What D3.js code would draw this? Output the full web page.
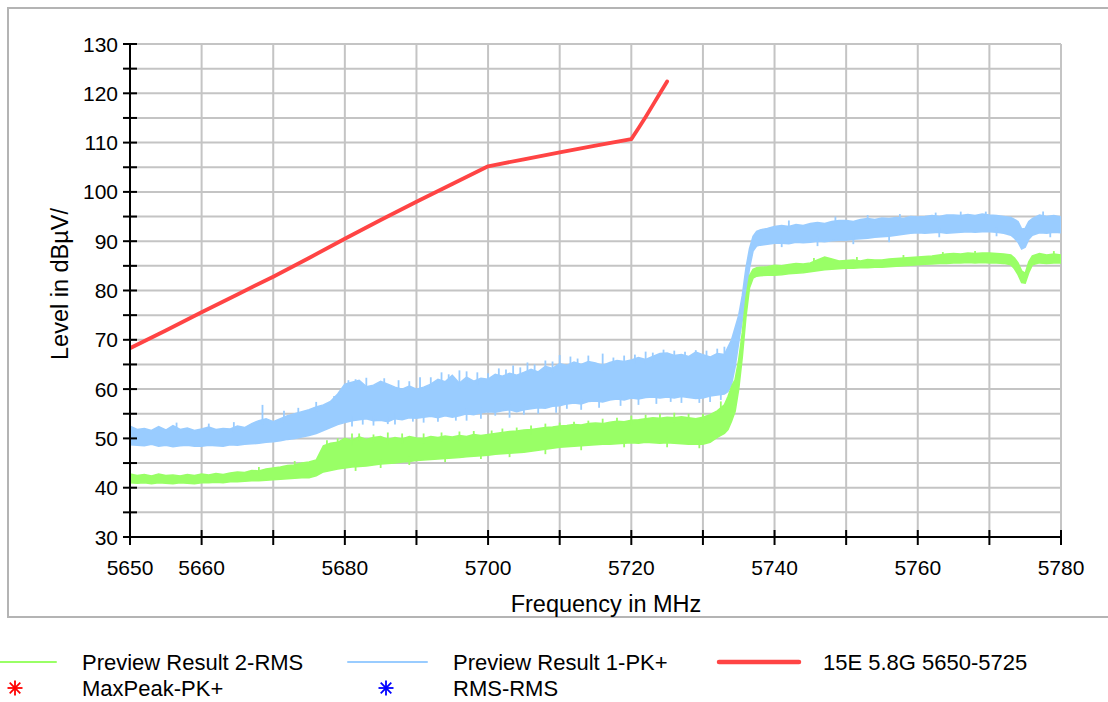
<!DOCTYPE html>
<html><head><meta charset="utf-8">
<script src="https://cdn.jsdelivr.net/npm/d3@7"></script>
<style>html,body{margin:0;padding:0;background:#fff;}svg{display:block;font-family:"Liberation Sans",Arial,sans-serif;}</style>
</head><body><svg id="c" width="1108" height="702"></svg>
<script>
// ---------- DATA ----------
const xTickValues = [5650,5660,5670,5680,5690,5700,5710,5720,5730,5740,5750,5760,5770,5780];
const xTickLabels = ["5650","5660","","5680","","5700","","5720","","5740","","5760","","5780"];
const yTickValues = [30,40,50,60,70,80,90,100,110,120,130];

const freqs = [5650,5651,5652,5653,5654,5655,5656,5657,5658,5659,5660,5661,5662,5663,5664,5665,5666,5667,5668,5669,
5670,5671,5672,5673,5674,5675,5676,5677,5678,5679,5680,5681,5682,5683,5684,5685,5686,5687,5688,5689,
5690,5691,5692,5693,5694,5695,5696,5697,5698,5699,5700,5701,5702,5703,5704,5705,5706,5707,5708,5709,
5710,5711,5712,5713,5714,5715,5716,5717,5718,5719,5720,5721,5722,5723,5724,5725,5726,5727,5728,5729,
5730,5731,5732,5733,5733.5,5734,5734.5,5735,5735.5,5736,5736.5,5737,5737.5,5738,5739,
5740,5741,5742,5743,5744,5745,5746,5747,5748,5749,5750,5751,5752,5753,5754,5755,5756,5757,5758,5759,
5760,5761,5762,5763,5764,5765,5766,5767,5768,5769,5770,5771,5772,5773,5773.5,5774,5774.5,5775,5775.5,5776,
5777,5778,5779,5780];

// Preview Result 1-PK+ (blue) envelope
const pkHigh = [52.5,51.8,52.0,51.6,52.4,51.7,52.6,51.8,52.1,51.6,51.9,52.3,51.8,52.0,51.9,52.5,52.2,53.0,53.6,54.0,
53.4,54.0,54.6,55.0,55.4,55.8,56.4,56.8,57.5,59.0,61.0,61.4,61.8,60.5,60.8,61.6,61.0,60.4,60.0,60.6,
60.0,60.4,61.0,62.0,61.5,62.8,61.2,62.4,61.6,62.2,62.0,63.0,62.6,63.2,62.8,63.4,64.0,63.5,64.6,64.2,
65.2,64.8,65.5,65.0,65.6,65.3,64.8,65.4,65.8,65.6,65.9,66.4,66.0,66.6,67.2,67.3,66.8,67.0,66.6,67.5,
67.0,66.5,67.2,67.0,68.5,70.0,72.5,75.0,79.0,84.5,88.5,91.0,92.0,92.3,92.6,
93.0,93.2,93.0,93.4,93.2,93.6,93.8,93.6,94.0,94.2,94.2,94.0,94.4,94.6,94.4,94.7,94.6,94.8,94.6,95.0,
94.9,95.0,95.2,95.0,95.3,95.3,95.2,95.4,95.2,95.5,95.3,95.2,95.0,94.8,94.4,94.0,92.5,92.6,94.0,94.6,
95.3,95.0,95.2,94.9];
const pkLow = [48.7,48.6,48.5,48.8,48.4,48.6,48.3,48.5,48.6,48.4,48.4,48.6,48.5,48.4,48.7,48.6,48.8,48.9,49.0,49.2,
49.3,49.5,49.8,50.0,50.3,50.6,51.0,51.6,52.2,52.8,53.2,53.6,53.8,54.0,53.6,53.7,53.4,54.0,53.8,54.2,
54.1,54.3,54.5,54.2,54.6,54.3,54.6,55.0,54.8,55.2,55.4,55.3,55.6,55.8,55.4,55.8,56.0,56.2,56.1,56.5,
56.6,57.0,57.2,57.0,57.5,57.6,57.4,57.8,58.0,57.8,58.2,58.0,58.3,58.4,58.2,58.4,58.2,58.5,58.3,58.1,
58.2,58.6,58.8,59.0,59.5,61.0,64.5,69.5,74.0,79.0,84.5,88.0,89.0,89.2,89.4,
89.6,89.6,89.5,89.8,89.7,89.8,90.0,89.9,90.1,90.2,90.2,90.4,90.5,90.6,90.8,90.9,91.0,91.2,91.4,91.6,
91.7,91.6,91.7,91.8,91.6,91.7,91.8,91.9,91.8,91.9,91.9,91.8,91.6,91.2,90.6,89.8,88.4,88.8,90.4,91.2,
91.7,91.6,91.8,91.7];

// Preview Result 2-RMS (green) envelope
const rmsHigh = [42.8,42.5,42.7,42.4,42.8,42.5,42.6,42.4,42.7,42.5,42.8,42.6,42.9,42.7,43.0,43.2,43.1,43.5,43.4,43.8,
44.0,44.2,44.5,44.6,45.0,45.2,45.6,48.5,49.0,49.2,50.0,49.6,50.3,49.8,50.2,50.4,49.8,50.2,49.9,50.4,
50.1,50.0,50.4,50.2,50.5,50.3,50.6,50.4,50.8,50.6,50.8,51.0,51.2,51.4,51.5,51.7,51.8,52.0,52.2,52.3,
52.5,52.6,52.8,52.7,53.0,53.1,53.0,53.3,53.5,53.4,53.7,53.8,54.0,54.2,54.1,54.3,54.2,54.4,54.2,54.0,
54.3,54.8,55.6,56.8,58.5,60.5,62.0,66.0,71.5,78.5,83.0,84.3,84.6,84.7,84.8,
85.1,85.0,85.3,85.5,85.4,85.6,86.2,86.8,86.4,86.0,86.1,86.2,86.0,86.3,86.2,86.2,86.4,86.5,86.6,86.7,
86.8,86.9,87.0,87.2,87.4,87.5,87.4,87.6,87.5,87.6,87.6,87.5,87.4,87.2,86.6,85.6,84.0,83.5,85.8,87.0,
87.5,87.2,87.4,87.2];
const rmsLow = [41.0,40.9,41.0,40.8,41.0,40.9,40.8,41.0,40.9,40.8,41.0,41.0,41.1,41.0,41.2,41.2,41.3,41.4,41.4,41.5,
41.6,41.7,41.8,41.9,42.0,42.0,42.4,43.2,43.5,43.8,44.0,44.2,44.3,44.4,44.6,44.8,44.9,45.0,45.2,45.3,
45.5,45.6,45.7,45.8,45.9,46.0,46.1,46.3,46.4,46.5,46.6,46.8,46.9,47.0,47.1,47.2,47.4,47.6,47.8,48.0,
48.2,48.3,48.4,48.5,48.6,48.7,48.8,48.8,48.9,49.0,49.1,49.0,49.2,49.1,49.0,49.1,49.0,48.9,48.8,48.8,
48.8,49.2,50.2,51.0,51.8,53.5,55.5,60.0,66.5,74.5,80.5,82.5,82.9,83.0,83.1,
83.1,83.2,83.4,83.5,83.6,83.8,84.0,84.2,84.3,84.4,84.5,84.5,84.6,84.6,84.7,84.7,84.8,84.9,85.0,85.1,
85.2,85.3,85.4,85.5,85.5,85.6,85.6,85.7,85.6,85.7,85.6,85.6,85.5,85.2,84.4,83.2,81.6,81.5,83.6,85.2,
85.6,85.5,85.6,85.6];

// isolated noise peaks / dips [MHz, dBµV]
const pkSpikes = [[5656.5,53.2],[5661,53.0],[5664.5,53.3],[5668.5,56.8],[5671.5,55.6],[5673.5,56.2],[5676,57.4],[5678.5,58.6],
[5680.5,61.8],[5681.5,62.0],[5683,62.3],[5685.5,62.2],[5687.5,61.8],[5689,61.6],[5690.5,62.4],[5692,62.4],[5693.5,63.4],
[5694.5,63.0],[5696,63.8],[5697,63.6],[5698.5,63.4],[5700,63.2],[5701.5,64.2],[5702.5,64.0],[5703.5,64.8],[5704.5,64.4],
[5705.5,65.4],[5706.5,65.0],[5708,65.8],[5709,65.6],[5710,66.9],[5711.5,66.6],[5712.5,66.2],[5714,66.8],[5716,67.2],
[5717.5,66.4],[5719,66.8],[5720.5,67.0],[5722,67.6],[5723,67.4],[5724.5,68.0],[5726,67.8],[5727.5,67.6],[5729,67.9],
[5730.5,67.8],[5732,68.2],[5733,68.6],
[5742,94.2],[5748.5,95.0],[5753,95.3],[5757.5,95.5],[5762.5,95.8],[5766,96.0],[5769.5,96.0],[5777.5,96.0]];
const pkDips = [[5681,52.4],[5682.5,52.8],[5684,52.6],[5686,52.9],[5687,52.8],[5689.5,53.4],[5691,53.2],[5693,53.4],
[5695.5,53.6],[5697,53.6],[5699,54.0],[5701,54.6],[5703,54.2],[5705,54.8],[5707,55.0],[5709.5,55.2],[5711,56.0],
[5713,55.8],[5715.5,56.2],[5718.5,56.6],[5721,56.8],[5723.5,57.0],[5725.5,57.4],[5727,57.2],[5729.5,57.2],[5731,57.4],[5732.5,57.8],
[5741,88.8],[5746,89.0],[5751,89.4],[5756,89.8],[5763,90.8],[5771,91.0],[5778.5,90.8]];
const rmsSpikes = [[5668,44.2],[5673,45.4],[5677.5,49.6],[5679,50.0],[5681,51.0],[5682,51.0],[5684,50.8],[5686,51.2],
[5688,51.0],[5691,51.0],[5693.5,51.2],[5696,51.4],[5698,51.5],[5700.5,51.6],[5702,52.0],[5704,52.2],[5706,52.6],
[5708,53.0],[5710,53.2],[5712,53.4],[5714,53.6],[5716,54.0],[5718,54.2],[5720,54.6],[5722,54.8],[5724,55.0],
[5726,55.2],[5728,55.0],[5730,55.0],[5732.5,57.5],
[5745.5,86.6],[5751.5,86.8],[5758,87.2],[5763.5,87.8],[5768,88.0],[5779,88.0]];
const rmsDips = [[5681.5,43.4],[5685,44.0],[5689,44.6],[5694,45.2],[5699,45.8],[5703,46.2],[5708,46.8],[5713,47.6],
[5719,48.2],[5725,48.2],[5729.5,48.0]];

// 15E 5.8G 5650-5725 limit
const limitFreqs = [5650,5655,5660,5665,5670,5675,5680,5685,5690,5695,5700,5705,5710,5715,5720,5721,5722,5723,5724,5725];
const limitVals  = [68.3,71.9,75.6,79.2,82.8,86.6,90.5,94.3,98.0,101.6,105.2,106.6,108.0,109.4,110.7,112.9,115.2,117.6,120.0,122.4];

const legendItems = [
  {label:"Preview Result 2-RMS", type:"line", color:"#99ff66"},
  {label:"Preview Result 1-PK+", type:"line", color:"#99ccff"},
  {label:"15E 5.8G 5650-5725", type:"line", color:"#ff4444"},
  {label:"MaxPeak-PK+", type:"star", color:"#ff0000"},
  {label:"RMS-RMS", type:"star", color:"#0000ff"}
];

// ---------- DRAW ----------
const svg = d3.select("#c");
const L = 130, R = 1061, T = 44, B = 537;
const x = d3.scaleLinear().domain([5650,5780]).range([L,R]);
const y = d3.scaleLinear().domain([30,130]).range([B,T]);

// frame
svg.append("rect").attr("x",8).attr("y",8).attr("width",1120).attr("height",609)
  .attr("fill","#fff").attr("stroke","#b4b4b4").attr("stroke-width",2);

// grid
const grid = svg.append("g").attr("stroke","#c4c4c4").attr("stroke-width",2);
grid.selectAll("line.v").data(xTickValues.slice(1)).join("line")
  .attr("x1",d=>x(d)).attr("x2",d=>x(d)).attr("y1",T).attr("y2",B);
grid.selectAll("line.h").data(d3.range(35,131,5)).join("line")
  .attr("x1",L).attr("x2",R).attr("y1",d=>y(d)).attr("y2",d=>y(d));

svg.append("clipPath").attr("id","pc").append("rect")
  .attr("x",L).attr("y",T-10).attr("width",R-L).attr("height",B-T+10);
const plot = svg.append("g").attr("clip-path","url(#pc)");

const idx = d3.range(freqs.length);
function interp(f, arr){
  const i = d3.bisectLeft(freqs,f);
  if(i<=0) return arr[0];
  const t=(f-freqs[i-1])/(freqs[i]-freqs[i-1]);
  return arr[i-1]+(arr[i]-arr[i-1])*t;
}
function band(hi, lo, color){
  plot.append("path").datum(idx)
    .attr("d", d3.area().x(i=>x(freqs[i])).y0(i=>y(lo[i])).y1(i=>y(hi[i])))
    .attr("fill",color).attr("stroke",color).attr("stroke-width",1.5);
}
function spikes(list, edge, color, up){
  plot.append("g").attr("stroke",color).attr("stroke-width",1.8)
    .selectAll("line").data(list).join("line")
    .attr("x1",d=>x(d[0])).attr("x2",d=>x(d[0]))
    .attr("y1",d=>y(interp(d[0],edge) + (up ? -1 : 1)))
    .attr("y2",d=>y(d[1]));
}
band(pkHigh, pkLow, "#99ccff");
spikes(pkSpikes, pkHigh, "#99ccff", true);
spikes(pkDips, pkLow, "#99ccff", false);
band(rmsHigh, rmsLow, "#99ff66");
spikes(rmsSpikes, rmsHigh, "#99ff66", true);
spikes(rmsDips, rmsLow, "#99ff66", false);

plot.append("path").datum(d3.range(limitFreqs.length))
  .attr("d", d3.line().x(i=>x(limitFreqs[i])).y(i=>y(limitVals[i])))
  .attr("fill","none").attr("stroke","#ff4444").attr("stroke-width",3.8)
  .attr("stroke-linejoin","round").attr("stroke-linecap","round");

// axes
const ax = svg.append("g").attr("stroke","#000").attr("stroke-width",2);
ax.append("line").attr("x1",L).attr("x2",L).attr("y1",T).attr("y2",B);
ax.append("line").attr("x1",L).attr("x2",R).attr("y1",B).attr("y2",B);
ax.selectAll("line.yt").data(d3.range(30,131,5)).join("line")
  .attr("x1",L-7).attr("x2",L+7).attr("y1",d=>y(d)).attr("y2",d=>y(d));
ax.selectAll("line.xt").data(xTickValues).join("line")
  .attr("x1",d=>x(d)).attr("x2",d=>x(d)).attr("y1",B-7).attr("y2",B+8);

svg.append("g").selectAll("text").data(yTickValues).join("text")
  .attr("x",118).attr("y",d=>y(d)).attr("dy","0.36em").attr("text-anchor","end")
  .attr("font-size",21).text(d=>d);
svg.append("g").selectAll("text").data(xTickValues).join("text")
  .attr("x",d=>x(d)).attr("y",575).attr("text-anchor","middle")
  .attr("font-size",21).text((d,i)=>xTickLabels[i]);

svg.append("text").attr("x",606).attr("y",612).attr("text-anchor","middle")
  .attr("font-size",23.5).text("Frequency in MHz");
svg.append("text").attr("transform","translate(68,284) rotate(-90)").attr("text-anchor","middle")
  .attr("font-size",23.5).text("Level in dBµV/");

// legend
const legendPos = [
  {lx0:0, lx1:56, tx:82, y:662},
  {lx0:348, lx1:427, tx:453, y:662},
  {lx0:719, lx1:799, tx:823, y:662},
  {lx0:15, tx:82, y:688},
  {lx0:386, tx:453, y:688}
];
const lg = svg.append("g");
legendItems.forEach((it,i)=>{
  const p = legendPos[i];
  if(it.type==="line"){
    lg.append("line").attr("x1",p.lx0).attr("x2",p.lx1).attr("y1",p.y).attr("y2",p.y)
      .attr("stroke",it.color).attr("stroke-width", i===2?4.5:2).attr("stroke-linecap","round");
  } else {
    const g = lg.append("g").attr("transform",`translate(${p.lx0},${p.y})`)
      .attr("stroke",it.color).attr("stroke-width",1.8);
    [0,45,90,135].forEach(a=>{
      const r=7.5, rad=a*Math.PI/180;
      g.append("line").attr("x1",-r*Math.cos(rad)).attr("y1",-r*Math.sin(rad))
        .attr("x2",r*Math.cos(rad)).attr("y2",r*Math.sin(rad));
    });
  }
  lg.append("text").attr("x",p.tx).attr("y",p.y).attr("dy","0.36em")
    .attr("font-size",22).text(it.label);
});
</script></body></html>
